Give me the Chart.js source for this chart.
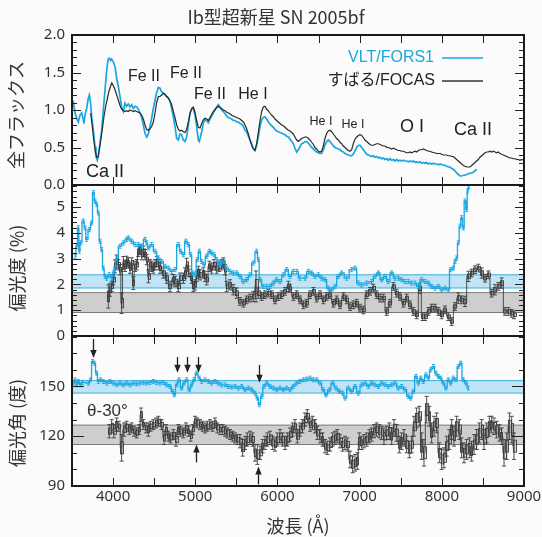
<!DOCTYPE html>
<html>
<head>
<meta charset="utf-8">
<script src="https://cdn.jsdelivr.net/npm/chart.js@4.4.1/dist/chart.umd.min.js"></script>
<style>
body { margin: 0; background: #fbfbfc; }
#wrap { position: relative; width: 542px; height: 537px; }
#wrap canvas { position: absolute; left: 0; top: 0; }
#title { position: absolute; top: 4px; left: 0; width: 552px; text-align: center;
         font: 18px "Noto Sans CJK JP", "Noto Sans"; color: #333; line-height: 24px; }
</style>
</head>
<body>
<div id="wrap">
  <canvas id="fluxChart" width="542" height="537"></canvas>
  <canvas id="polChart" width="542" height="537"></canvas>
  <canvas id="angleChart" width="542" height="537"></canvas>
  <div id="title">Ib型超新星 SN 2005bf</div>
</div>
<script>
// ---------------- data ----------------
const waveTicks = [4000, 5000, 6000, 7000, 8000, 9000];
const fluxTicks = [0, 0.5, 1.0, 1.5, 2.0];
const polTicks = [0, 1, 2, 3, 4, 5];
const angleTicks = [90, 120, 150];

// [wavelength (A), total flux]
const vltFlux = [
  [3496,1.13],[3516,1.11],[3537,0.96],[3557,0.89],[3577,0.84],[3597,0.93],[3618,0.96],[3638,0.87],
  [3646,0.82],[3658,0.93],[3678,1.02],[3699,1.16],[3711,1.20],[3725,1.11],[3739,0.91],[3760,0.73],
  [3780,0.51],[3792,0.38],[3808,0.33],[3820,0.38],[3841,0.56],[3861,0.73],[3881,1.00],[3902,1.27],
  [3922,1.53],[3935,1.64],[3942,1.68],[3955,1.69],[3970,1.66],[3983,1.68],[4003,1.64],[4023,1.58],
  [4044,1.42],[4064,1.31],[4084,1.18],[4104,1.04],[4125,0.98],[4145,1.09],[4165,1.05],[4185,1.08],
  [4206,1.04],[4226,1.07],[4246,1.02],[4267,1.05],[4287,1.04],[4307,1.01],[4327,0.96],[4348,0.90],
  [4368,0.80],[4388,0.69],[4409,0.64],[4429,0.68],[4449,0.78],[4469,0.89],[4490,1.02],[4510,1.13],
  [4530,1.23],[4551,1.30],[4571,1.29],[4591,1.24],[4611,1.23],[4632,1.20],[4652,1.18],[4672,1.16],
  [4692,1.12],[4713,1.02],[4733,0.91],[4753,0.78],[4774,0.62],[4794,0.60],[4814,0.68],[4834,0.67],
  [4855,0.60],[4875,0.58],[4895,0.64],[4916,0.80],[4936,0.96],[4956,1.01],[4976,1.02],[4997,0.93],
  [5017,0.78],[5037,0.60],[5049,0.58],[5058,0.62],[5078,0.71],[5098,0.82],[5118,0.87],[5139,0.86],
  [5159,0.83],[5179,0.88],[5199,0.92],[5220,0.96],[5240,1.01],[5260,1.04],[5280,1.07],[5301,1.04],
  [5321,1.00],[5341,0.98],[5362,0.95],[5382,0.92],[5402,0.90],[5423,0.89],[5443,0.88],[5463,0.86],
  [5483,0.86],[5504,0.84],[5524,0.84],[5544,0.82],[5565,0.81],[5585,0.78],[5605,0.73],[5625,0.71],
  [5646,0.65],[5666,0.60],[5686,0.55],[5706,0.49],[5727,0.46],[5747,0.53],[5767,0.64],[5788,0.78],
  [5808,0.87],[5828,0.90],[5848,0.91],[5869,0.88],[5889,0.84],[5909,0.81],[5930,0.79],[5950,0.77],
  [5970,0.74],[5990,0.72],[6011,0.71],[6031,0.70],[6051,0.69],[6072,0.68],[6092,0.67],[6112,0.65],
  [6133,0.64],[6153,0.61],[6173,0.58],[6193,0.55],[6213,0.49],[6234,0.44],[6254,0.47],[6274,0.51],
  [6294,0.55],[6315,0.56],[6335,0.58],[6355,0.58],[6376,0.56],[6396,0.53],[6416,0.50],[6437,0.48],
  [6457,0.46],[6477,0.44],[6497,0.43],[6518,0.42],[6538,0.42],[6558,0.47],[6578,0.53],[6599,0.58],
  [6619,0.60],[6639,0.58],[6660,0.55],[6680,0.52],[6700,0.50],[6720,0.49],[6741,0.48],[6761,0.47],
  [6781,0.45],[6802,0.44],[6822,0.42],[6842,0.41],[6862,0.40],[6883,0.39],[6903,0.39],[6923,0.41],
  [6944,0.46],[6964,0.50],[6984,0.53],[7004,0.53],[7025,0.50],[7045,0.47],[7065,0.44],[7086,0.41],
  [7106,0.40],[7126,0.39],[7146,0.38],[7167,0.39],[7187,0.37],[7207,0.38],[7228,0.36],[7248,0.37],
  [7268,0.35],[7288,0.36],[7309,0.34],[7329,0.35],[7349,0.33],[7369,0.35],[7390,0.33],[7410,0.34],
  [7430,0.32],[7451,0.34],[7471,0.32],[7491,0.33],[7511,0.32],[7532,0.33],[7552,0.32],[7572,0.32],
  [7592,0.31],[7613,0.32],[7633,0.31],[7653,0.32],[7674,0.30],[7694,0.31],[7714,0.30],[7734,0.31],
  [7755,0.29],[7775,0.30],[7795,0.29],[7816,0.30],[7836,0.28],[7856,0.29],[7876,0.28],[7897,0.29],
  [7917,0.28],[7937,0.28],[7958,0.27],[7978,0.28],[7998,0.27],[8018,0.27],[8039,0.26],[8059,0.25],
  [8079,0.24],[8099,0.24],[8120,0.22],[8140,0.21],[8160,0.19],[8180,0.16],[8201,0.14],[8221,0.12],
  [8241,0.12],[8262,0.13],[8282,0.13],[8302,0.14],[8323,0.15],[8343,0.16],[8363,0.16],[8383,0.17],
  [8404,0.19],[8424,0.21]
];

const subaruFlux = [
  [3727,0.96],[3745,0.80],[3765,0.60],[3785,0.44],[3800,0.37],[3815,0.37],[3830,0.45],[3850,0.60],
  [3870,0.75],[3890,0.92],[3910,1.05],[3930,1.15],[3950,1.25],[3970,1.32],[3985,1.36],[4000,1.33],
  [4020,1.28],[4044,1.20],[4064,1.13],[4084,1.06],[4104,1.01],[4125,0.99],[4145,0.98],[4165,0.99],
  [4185,0.98],[4206,1.00],[4226,0.99],[4246,0.98],[4267,0.99],[4287,0.98],[4307,0.97],[4327,0.96],
  [4348,0.93],[4368,0.88],[4388,0.80],[4409,0.74],[4429,0.73],[4449,0.75],[4469,0.78],[4490,0.84],
  [4510,0.96],[4530,1.10],[4551,1.18],[4571,1.18],[4591,1.20],[4611,1.22],[4632,1.21],[4652,1.18],
  [4672,1.16],[4692,1.12],[4713,1.07],[4733,0.98],[4753,0.90],[4774,0.80],[4794,0.74],[4814,0.72],
  [4834,0.73],[4855,0.71],[4875,0.70],[4895,0.74],[4916,0.84],[4936,0.95],[4956,1.02],[4976,1.04],
  [4997,0.97],[5017,0.86],[5037,0.77],[5058,0.76],[5078,0.82],[5098,0.87],[5118,0.89],[5139,0.88],
  [5159,0.86],[5179,0.90],[5199,0.94],[5220,0.98],[5240,1.00],[5260,1.03],[5280,1.05],[5301,1.03],
  [5321,1.02],[5341,1.00],[5362,0.99],[5382,0.97],[5402,0.96],[5423,0.95],[5443,0.93],[5463,0.92],
  [5483,0.91],[5504,0.90],[5524,0.89],[5544,0.88],[5565,0.86],[5585,0.84],[5605,0.80],[5625,0.75],
  [5646,0.68],[5666,0.60],[5686,0.53],[5706,0.48],[5727,0.46],[5747,0.55],[5767,0.70],[5788,0.86],
  [5808,0.98],[5828,1.04],[5848,1.05],[5869,1.01],[5889,0.99],[5909,0.96],[5930,0.93],[5950,0.91],
  [5970,0.88],[5990,0.86],[6011,0.84],[6031,0.82],[6051,0.80],[6072,0.79],[6092,0.77],[6112,0.75],
  [6133,0.73],[6153,0.72],[6173,0.70],[6193,0.68],[6213,0.64],[6234,0.60],[6254,0.58],[6274,0.60],
  [6294,0.62],[6315,0.63],[6335,0.64],[6355,0.64],[6376,0.62],[6396,0.60],[6416,0.57],[6437,0.54],
  [6457,0.50],[6477,0.48],[6497,0.45],[6518,0.44],[6538,0.45],[6558,0.52],[6578,0.62],[6599,0.69],
  [6619,0.72],[6639,0.73],[6660,0.71],[6680,0.68],[6700,0.65],[6720,0.62],[6741,0.60],[6761,0.57],
  [6781,0.55],[6802,0.52],[6822,0.50],[6842,0.48],[6862,0.46],[6883,0.45],[6903,0.47],[6923,0.55],
  [6944,0.61],[6964,0.64],[6984,0.66],[7004,0.67],[7025,0.66],[7045,0.63],[7065,0.60],[7086,0.58],
  [7106,0.56],[7126,0.54],[7146,0.53],[7167,0.53],[7187,0.54],[7207,0.55],[7228,0.55],[7248,0.54],
  [7268,0.53],[7288,0.52],[7309,0.52],[7329,0.50],[7349,0.50],[7369,0.49],[7390,0.48],[7410,0.49],
  [7430,0.48],[7451,0.47],[7471,0.46],[7491,0.46],[7511,0.45],[7532,0.45],[7552,0.44],[7572,0.43],
  [7592,0.43],[7613,0.44],[7633,0.43],[7653,0.44],[7674,0.45],[7694,0.44],[7714,0.46],[7734,0.47],
  [7755,0.47],[7775,0.48],[7795,0.47],[7816,0.46],[7836,0.45],[7856,0.45],[7876,0.44],[7897,0.43],
  [7917,0.43],[7937,0.42],[7958,0.42],[7978,0.42],[7998,0.41],[8018,0.40],[8039,0.40],[8059,0.40],
  [8079,0.39],[8099,0.39],[8120,0.38],[8140,0.38],[8160,0.36],[8180,0.34],[8201,0.32],[8221,0.30],
  [8241,0.28],[8262,0.26],[8282,0.25],[8302,0.24],[8323,0.24],[8343,0.24],[8363,0.26],[8383,0.28],
  [8404,0.30],[8424,0.32],[8444,0.34],[8465,0.37],[8485,0.39],[8505,0.41],[8526,0.43],[8546,0.44],
  [8566,0.44],[8586,0.45],[8606,0.44],[8627,0.45],[8647,0.44],[8667,0.43],[8687,0.44],[8708,0.42],
  [8728,0.41],[8748,0.40],[8769,0.39],[8789,0.38],[8810,0.37],[8830,0.36],[8850,0.36],[8870,0.35],
  [8891,0.35],[8911,0.34],[8931,0.34],[8951,0.33],[8972,0.34],[8992,0.33],[9000,0.33]
];

// [wavelength, polarization %]
const vltPol = [
  [3537,3.09],[3557,3.48],[3577,4.19],[3590,3.28],[3605,3.61],[3638,4.45],[3658,4.19],[3678,3.74],
  [3711,4.12],[3739,4.38],[3760,5.55],[3780,5.23],[3800,5.10],[3820,4.77],[3841,3.67],[3861,3.35],
  [3881,2.63],[3902,2.31],[3922,2.24],[3954,2.37],[3983,2.24],[4003,2.44],[4023,2.63],[4044,3.02],
  [4084,3.48],[4125,3.61],[4165,3.74],[4185,3.80],[4226,3.67],[4267,3.54],[4307,3.54],[4348,3.48],
  [4388,3.74],[4409,3.61],[4429,3.41],[4469,3.54],[4510,3.28],[4551,3.02],[4591,2.89],[4632,2.70],
  [4672,2.63],[4713,2.50],[4753,2.57],[4794,3.54],[4822,3.28],[4855,3.15],[4887,3.67],[4916,3.54],
  [4944,3.15],[4968,2.44],[4997,2.37],[5025,2.96],[5049,3.28],[5078,2.89],[5106,2.76],[5139,3.09],
  [5171,3.28],[5199,3.22],[5228,3.15],[5260,2.96],[5293,2.76],[5321,2.83],[5350,2.89],[5382,2.63],
  [5423,2.50],[5463,2.44],[5504,2.44],[5544,2.31],[5585,2.11],[5625,2.18],[5666,2.37],[5706,2.83],
  [5747,3.28],[5767,2.96],[5788,2.18],[5828,1.92],[5869,1.92],[5909,1.92],[5950,2.05],[5990,2.18],
  [6031,2.11],[6072,2.37],[6112,2.57],[6153,2.31],[6193,2.50],[6234,2.50],[6274,2.24],[6335,2.24],
  [6376,2.50],[6416,2.44],[6457,2.31],[6497,2.37],[6538,2.24],[6578,2.18],[6619,1.85],[6660,1.79],
  [6700,1.92],[6741,2.31],[6781,2.44],[6842,2.24],[6903,2.57],[6944,2.63],[6984,2.05],[7025,1.98],
  [7086,2.05],[7146,2.11],[7187,2.31],[7228,2.44],[7268,2.18],[7309,2.31],[7349,2.11],[7390,2.44],
  [7430,2.24],[7471,2.24],[7511,2.18],[7552,2.11],[7592,2.11],[7633,2.05],[7674,2.05],[7714,1.92],
  [7755,2.18],[7795,2.11],[7836,2.05],[7876,1.92],[7917,1.85],[7958,1.92],[7998,1.79],[8039,1.85],
  [8079,1.79],[8108,2.57],[8140,2.63],[8160,2.89],[8180,3.02],[8201,3.61],[8221,4.25],[8241,4.58],
  [8262,4.19],[8282,5.23],[8302,4.90],[8314,5.62],[8331,5.80]
];
const vltPolErr = 0.08;

// [wavelength, polarization %, error]
const subaruPol = [
  [3942,1.53,0.45],[3962,1.79,0.25],[3983,1.92,0.2],[4003,2.18,0.2],[4023,2.70,0.25],[4044,2.89,0.25],
  [4064,2.76,0.2],[4084,2.57,0.2],[4104,1.27,0.4],[4125,2.83,0.25],[4145,2.70,0.2],[4165,2.89,0.2],
  [4185,2.83,0.2],[4206,2.63,0.2],[4226,2.83,0.2],[4246,2.05,0.25],[4267,2.70,0.2],[4287,2.76,0.2],
  [4307,3.28,0.2],[4327,3.35,0.2],[4348,3.15,0.2],[4368,3.28,0.2],[4388,3.15,0.2],[4409,2.96,0.2],
  [4429,2.31,0.25],[4449,2.76,0.2],[4469,2.70,0.2],[4490,2.63,0.2],[4510,2.76,0.2],[4530,2.89,0.2],
  [4551,2.76,0.2],[4571,2.63,0.2],[4611,2.44,0.2],[4652,2.24,0.2],[4692,1.92,0.2],[4733,2.18,0.2],
  [4753,2.11,0.2],[4794,1.92,0.2],[4814,2.24,0.2],[4855,2.24,0.2],[4875,2.44,0.2],[4895,2.76,0.25],
  [4916,2.50,0.2],[4956,2.24,0.2],[4976,1.92,0.2],[4997,1.98,0.2],[5017,2.31,0.2],[5037,2.50,0.2],
  [5058,2.37,0.2],[5098,2.44,0.2],[5118,2.31,0.2],[5139,2.18,0.2],[5171,2.70,0.2],[5199,2.63,0.2],
  [5228,2.76,0.2],[5260,2.63,0.2],[5293,2.70,0.2],[5321,2.76,0.2],[5341,2.83,0.2],[5362,2.57,0.2],
  [5382,1.92,0.2],[5423,1.98,0.2],[5463,1.79,0.2],[5504,1.66,0.2],[5544,1.34,0.15],[5585,1.27,0.15],
  [5625,1.40,0.15],[5666,1.47,0.15],[5706,1.53,0.2],[5739,1.92,0.6],[5767,1.66,0.2],[5808,1.53,0.15],
  [5848,1.60,0.15],[5889,1.66,0.15],[5930,1.60,0.15],[5970,1.40,0.15],[6011,1.53,0.15],[6051,1.60,0.15],
  [6092,1.73,0.15],[6133,1.92,0.2],[6153,1.85,0.15],[6193,1.53,0.15],[6234,1.60,0.15],[6274,1.40,0.15],
  [6315,1.21,0.15],[6355,1.27,0.15],[6396,1.60,0.15],[6437,1.73,0.15],[6477,1.47,0.15],[6518,1.60,0.15],
  [6558,1.40,0.15],[6599,1.53,0.15],[6639,1.60,0.15],[6680,1.27,0.15],[6720,1.40,0.15],[6761,1.21,0.15],
  [6802,1.53,0.15],[6842,1.40,0.15],[6883,1.14,0.15],[6923,1.21,0.15],[6964,1.27,0.15],[7004,1.08,0.15],
  [7045,1.01,0.15],[7086,1.60,0.15],[7126,1.73,0.15],[7167,1.85,0.15],[7207,1.60,0.15],[7248,1.47,0.15],
  [7288,1.47,0.15],[7329,0.95,0.15],[7369,1.27,0.15],[7410,1.92,0.15],[7451,1.66,0.15],[7491,1.53,0.15],
  [7532,1.27,0.15],[7572,1.47,0.15],[7613,1.21,0.15],[7653,0.95,0.15],[7694,0.82,0.15],[7734,1.85,0.2],
  [7767,0.75,0.15],[7795,0.75,0.15],[7836,0.95,0.15],[7876,1.08,0.15],[7917,1.08,0.15],[7958,0.95,0.15],
  [7998,0.82,0.15],[8039,1.01,0.15],[8079,0.75,0.15],[8120,0.56,0.15],[8160,1.14,0.15],[8201,1.47,0.2],
  [8241,1.40,0.15],[8282,1.34,0.2],[8323,2.31,0.2],[8363,2.44,0.15],[8404,2.57,0.15],[8444,2.63,0.15],
  [8485,2.44,0.2],[8526,2.24,0.15],[8566,2.37,0.15],[8606,1.66,0.15],[8647,1.79,0.2],[8687,1.92,0.15],
  [8728,2.05,0.2],[8769,0.95,0.15],[8810,0.95,0.15],[8850,0.88,0.15],[8878,0.82,0.15]
];

// [wavelength, polarization angle (deg)]
const vltAngle = [
  [3516,152.0],[3537,154.0],[3557,151.0],[3577,153.0],[3605,151.0],[3630,152.4],[3699,152.0],[3725,154.0],
  [3751,165.0],[3772,164.0],[3800,158.0],[3820,153.0],[3848,154.0],[3881,153.0],[3922,152.0],[3962,153.0],
  [4003,152.0],[4044,151.0],[4084,152.0],[4125,151.0],[4165,152.0],[4206,151.0],[4246,152.0],[4287,151.6],
  [4327,152.0],[4368,152.4],[4409,152.0],[4449,152.4],[4490,153.0],[4530,152.4],[4571,152.0],[4611,152.4],
  [4652,151.0],[4692,150.0],[4725,147.0],[4745,145.0],[4774,151.0],[4802,154.0],[4834,149.0],[4863,152.0],
  [4895,154.0],[4928,148.0],[4956,151.0],[4984,154.0],[5017,158.0],[5049,155.0],[5078,153.0],[5118,154.0],
  [5159,153.0],[5199,152.0],[5240,153.0],[5280,152.0],[5321,151.0],[5362,151.0],[5402,150.0],[5443,149.6],
  [5483,150.0],[5524,149.0],[5565,150.0],[5605,148.0],[5646,149.0],[5686,148.0],[5727,146.0],[5755,143.0],
  [5779,139.0],[5808,144.0],[5836,150.0],[5869,152.0],[5909,150.0],[5950,149.0],[5990,148.0],[6031,149.0],
  [6072,148.0],[6112,149.0],[6153,148.0],[6193,150.0],[6234,152.0],[6274,153.0],[6315,154.0],[6355,154.4],
  [6396,155.0],[6437,154.0],[6477,154.0],[6518,152.0],[6558,148.0],[6591,145.0],[6631,148.0],[6672,152.0],
  [6712,149.0],[6753,147.0],[6793,146.0],[6822,143.0],[6862,149.0],[6903,147.0],[6944,150.0],[6984,146.0],
  [7025,151.0],[7065,152.0],[7106,150.0],[7146,152.0],[7187,151.0],[7228,150.0],[7268,152.0],[7309,151.0],
  [7349,150.0],[7390,151.0],[7430,152.0],[7471,149.0],[7511,150.0],[7552,148.0],[7592,144.0],[7621,143.0],
  [7653,147.0],[7686,156.0],[7714,152.0],[7743,155.0],[7775,153.0],[7807,157.0],[7836,155.0],[7864,160.0],
  [7897,162.0],[7929,158.0],[7958,156.0],[7986,155.0],[8018,152.0],[8051,149.0],[8079,154.0],[8108,152.0],
  [8140,155.0],[8172,154.0],[8201,162.0],[8229,164.0],[8262,154.0],[8294,152.0],[8323,149.0]
];
const vltAngleErr = 1.2;

// [wavelength, theta - 30 deg, error]
const subaruAngle = [
  [3954,123,4],[3983,126,4],[4010,123,4],[4044,127,4],[4070,126,3],[4104,113,8],[4133,124,4],[4165,126,3],
  [4196,124,3],[4226,125,3],[4255,123,3],[4287,122,3],[4318,124,3],[4340,133,4],[4368,127,3],[4400,125,3],
  [4429,124,4],[4457,126,3],[4490,127,3],[4522,128,3],[4551,129,3],[4591,127,3],[4620,119,4],[4644,124,3],
  [4672,120,3],[4700,119,3],[4733,121,3],[4765,118,4],[4794,124,3],[4822,123,3],[4855,122,3],[4887,125,3],
  [4916,123,3],[4944,120,3],[4968,124,3],[4997,129,3],[5025,128,3],[5058,127,3],[5090,126,3],[5118,125,3],
  [5147,126,3],[5179,127,3],[5212,126,3],[5240,128,3],[5268,125,3],[5301,124,3],[5333,124,3],[5362,123,3],
  [5390,122,3],[5423,121,3],[5455,120,3],[5483,119,3],[5512,118,3],[5544,117,4],[5577,113,5],[5605,116,4],
  [5633,118,4],[5666,119,4],[5698,118,4],[5727,110,5],[5755,109,6],[5788,110,4],[5820,114,4],[5848,116,4],
  [5877,118,4],[5909,119,4],[5942,116,4],[5970,115,4],[5998,118,4],[6031,120,4],[6063,118,4],[6092,116,4],
  [6120,118,4],[6153,121,4],[6185,124,4],[6213,126,4],[6242,120,4],[6274,124,4],[6303,126,4],[6335,130,4],
  [6364,132,4],[6396,127,4],[6428,128,4],[6457,126,4],[6485,122,4],[6518,120,4],[6550,118,4],[6578,114,4],
  [6607,113,4],[6639,115,4],[6672,118,4],[6700,119,4],[6728,120,4],[6761,117,4],[6793,115,4],[6822,116,4],
  [6850,115,4],[6883,106,5],[6915,103,5],[6944,104,5],[6972,105,5],[6996,117,5],[7025,116,4],[7053,117,4],
  [7086,118,4],[7118,120,4],[7146,121,4],[7175,123,4],[7207,124,4],[7240,123,4],[7268,122,4],[7296,120,5],
  [7329,122,4],[7361,123,5],[7390,120,5],[7418,125,5],[7451,122,5],[7483,115,5],[7511,117,5],[7540,119,5],
  [7572,115,5],[7605,112,5],[7633,115,5],[7661,126,6],[7694,131,6],[7726,132,6],[7755,114,8],[7783,110,8],
  [7816,136,8],[7848,132,6],[7876,122,6],[7905,126,6],[7937,128,6],[7970,110,6],[7998,106,6],[8026,107,6],
  [8059,114,6],[8091,118,6],[8120,124,6],[8148,120,6],[8180,126,6],[8213,124,6],[8241,113,6],[8270,110,6],
  [8302,112,6],[8335,113,6],[8363,111,6],[8392,115,6],[8424,118,6],[8457,122,6],[8485,124,6],[8513,118,6],
  [8546,122,6],[8578,126,6],[8606,127,5],[8635,126,5],[8667,124,5],[8700,122,5],[8728,120,5],[8757,110,8],
  [8789,114,8],[8822,126,8],[8850,124,8],[8878,114,8]
];

// shaded reference bands [low, high]
const vltPolBand = [1.86, 2.37];
const subaruPolBand = [0.91, 1.68];
const vltAngleBand = [146.0, 153.5];
const subaruAngleBand = [115.0, 126.7];

// ---------------- styling ----------------
const CYAN = '#1ba6e0';
const DARK = '#2a2a2a';
const STEP_DARK = '#3c3c3c';
const CYAN_FILL = 'rgba(120, 200, 240, 0.45)';
const CYAN_EDGE = '#3aaee0';
const GRAY_FILL = 'rgba(170, 170, 170, 0.55)';
const GRAY_EDGE = '#7a7a7a';
const TICK_FONT = { family: '"Noto Sans", "DejaVu Sans", sans-serif', size: 15 };
const LABEL_FONT = '"Liberation Sans", Arial, sans-serif';
const JP_FONT = '"Noto Sans CJK JP", "Noto Sans", sans-serif';

function toPts(rows, err) {
    return rows.map(r => ({ x: r[0], y: r[1], e: err !== undefined ? err : r[2] }));
}

function band(range, fill, edge) {
    return [
        { data: [{ x: 3500, y: range[0] }, { x: 9000, y: range[0] }], borderColor: edge, borderWidth: 1,
          pointRadius: 0, fill: false, order: 2 },
        { data: [{ x: 3500, y: range[1] }, { x: 9000, y: range[1] }], borderColor: edge, borderWidth: 1,
          pointRadius: 0, fill: '-1', backgroundColor: fill, order: 2 }
    ];
}

// error bars with caps (and optional bin boxes), drawn right after their own dataset
const errorBarPlugin = {
    id: 'errorBars',
    afterDatasetDraw(chart, args) {
        const ds = chart.data.datasets[args.index];
        if (!ds.errorBars) return;
        const opt = ds.errorBars;
        const { ctx, chartArea: a } = chart;
        const ys = chart.scales[args.meta.yAxisID];
        const pts = args.meta.data;
        const w = opt.cap;
        ctx.save();
        ctx.beginPath();
        ctx.rect(a.left, a.top, a.right - a.left, a.bottom - a.top);
        ctx.clip();
        ctx.lineWidth = 0.9;
        if (opt.box) {
            ctx.fillStyle = opt.boxFill;
            ctx.strokeStyle = opt.color;
            pts.forEach((pt, i) => {
                const d = ds.data[i];
                const l = i > 0 ? (pts[i - 1].x + pt.x) / 2 : pt.x - 1.5;
                const r = i < pts.length - 1 ? (pts[i + 1].x + pt.x) / 2 : pt.x + 1.5;
                const t = ys.getPixelForValue(d.y + d.e * opt.box);
                const b = ys.getPixelForValue(d.y - d.e * opt.box);
                ctx.fillRect(l, t, r - l, b - t);
                ctx.strokeRect(Math.round(l) + 0.5, t, Math.max(1, Math.round(r - l)), b - t);
            });
        }
        ctx.strokeStyle = opt.color;
        ctx.beginPath();
        pts.forEach((pt, i) => {
            const d = ds.data[i];
            const top = ys.getPixelForValue(d.y + d.e);
            const bot = ys.getPixelForValue(d.y - d.e);
            ctx.moveTo(pt.x, top); ctx.lineTo(pt.x, bot);
            ctx.moveTo(pt.x - w, top); ctx.lineTo(pt.x + w, top);
            ctx.moveTo(pt.x - w, bot); ctx.lineTo(pt.x + w, bot);
        });
        ctx.stroke();
        ctx.restore();
    }
};

// panel frame + inward tick marks
const framePlugin = {
    id: 'frame',
    afterDraw(chart, args, o) {
        const { ctx, chartArea: a } = chart;
        const xs = chart.scales.x, ys = chart.scales.y;
        ctx.save();
        ctx.strokeStyle = '#222';
        ctx.lineWidth = 1;
        ctx.beginPath();
        for (let k = Math.ceil(xs.min / o.xStep); k <= Math.floor(xs.max / o.xStep); k++) {
            const px = Math.round(xs.getPixelForValue(k * o.xStep)) + 0.5;
            ctx.moveTo(px, a.top); ctx.lineTo(px, a.top + o.xLen);
            ctx.moveTo(px, a.bottom); ctx.lineTo(px, a.bottom - o.xLen);
        }
        const k0 = Math.ceil(ys.min / o.yStep - 1e-6), k1 = Math.floor(ys.max / o.yStep + 1e-6);
        for (let k = k0; k <= k1; k++) {
            const v = k * o.yStep;
            const len = o.major.some(m => Math.abs(m - v) < 1e-6) ? o.majorLen : o.minorLen;
            const py = Math.round(ys.getPixelForValue(v)) + 0.5;
            ctx.moveTo(a.left, py); ctx.lineTo(a.left + len, py);
            ctx.moveTo(a.right, py); ctx.lineTo(a.right - len, py);
        }
        ctx.stroke();
        ctx.lineWidth = 2;
        ctx.strokeStyle = '#1a1a1a';
        ctx.strokeRect(a.left, a.top, a.right - a.left, a.bottom - a.top);
        ctx.restore();
    }
};

// texts, legend segments and arrows
const decorPlugin = {
    id: 'decor',
    afterDraw(chart, args, o) {
        const ctx = chart.ctx;
        const xs = chart.scales.x, ys = chart.scales.y;
        ctx.save();
        (o.segments || []).forEach(s => {
            ctx.strokeStyle = s.color;
            ctx.lineWidth = s.width || 1.5;
            ctx.beginPath(); ctx.moveTo(s.x0, s.y); ctx.lineTo(s.x1, s.y); ctx.stroke();
        });
        (o.arrows || []).forEach(ar => {
            const px = Math.round(xs.getPixelForValue(ar.wave)) + 0.5;
            const p0 = ys.getPixelForValue(ar.from), p1 = ys.getPixelForValue(ar.to);
            const dir = Math.sign(p1 - p0);
            ctx.strokeStyle = '#222'; ctx.fillStyle = '#222'; ctx.lineWidth = 1.3;
            ctx.beginPath(); ctx.moveTo(px, p0); ctx.lineTo(px, p1 - dir * 5); ctx.stroke();
            ctx.beginPath(); ctx.moveTo(px, p1); ctx.lineTo(px - 3.2, p1 - dir * 8); ctx.lineTo(px + 3.2, p1 - dir * 8);
            ctx.closePath(); ctx.fill();
        });
        (o.texts || []).forEach(t => {
            let px = t.x, py = t.y;
            if (t.data) { px = xs.getPixelForValue(t.x); py = ys.getPixelForValue(t.y); }
            ctx.save();
            ctx.font = t.font;
            ctx.fillStyle = t.color || '#222';
            ctx.textAlign = t.align || 'center';
            ctx.textBaseline = 'middle';
            ctx.translate(px, py);
            if (t.rotate) ctx.rotate(t.rotate);
            ctx.fillText(t.text, 0, 0);
            ctx.restore();
        });
        ctx.restore();
    }
};

function xScale(show) {
    return {
        type: 'linear', min: 3500, max: 9000, display: show,
        afterFit: sc => { sc.height = show ? 51 : 0; sc.paddingLeft = 0; sc.paddingRight = 0; },
        afterBuildTicks: sc => { sc.ticks = waveTicks.map(v => ({ value: v })); },
        grid: { display: false, drawTicks: false },
        border: { display: false },
        ticks: { color: '#333', font: TICK_FONT, padding: 2, maxRotation: 0, autoSkip: false, callback: v => String(v) },
        title: { display: true, text: '波長 (Å)', color: '#333', font: { family: JP_FONT, size: 18 }, padding: { top: 0, bottom: 0 } }
    };
}

function yScale(min, max, ticks, fmt) {
    return {
        type: 'linear', min: min, max: max,
        afterFit: sc => { sc.width = 72; sc.paddingTop = 0; sc.paddingBottom = 0; },
        afterBuildTicks: sc => { sc.ticks = ticks.map(v => ({ value: v })); },
        grid: { display: false, drawTicks: false },
        border: { display: false },
        ticks: { color: '#333', font: TICK_FONT, padding: 7, callback: fmt }
    };
}

function makeChart(id, cfg) {
    return new Chart(document.getElementById(id), {
        type: 'line',
        data: { datasets: cfg.datasets },
        options: {
            responsive: false,
            animation: false,
            events: [],
            layout: { padding: { left: 0, right: 18, top: cfg.top, bottom: cfg.bottom } },
            elements: { point: { radius: 0 }, line: { tension: 0 } },
            plugins: {
                legend: { display: false },
                tooltip: { enabled: false },
                frame: cfg.frame,
                decor: cfg.decor
            },
            scales: { x: xScale(cfg.showX), y: cfg.y }
        },
        plugins: [errorBarPlugin, framePlugin, decorPlugin]
    });
}

// ---------------- panel 1: total flux ----------------
makeChart('fluxChart', {
    top: 35, bottom: 352, showX: false,
    y: yScale(0, 2.0, fluxTicks, v => v.toFixed(1)),
    datasets: [
        { data: toPts(subaruFlux), borderColor: DARK, borderWidth: 1.2, order: 1 },
        { data: toPts(vltFlux), borderColor: CYAN, borderWidth: 1.7, order: 1 }
    ],
    frame: { xStep: 500, xLen: 8, yStep: 0.1, major: fluxTicks, majorLen: 9, minorLen: 5 },
    decor: {
        segments: [
            { x0: 442, x1: 483, y: 58, color: CYAN, width: 1.5 },
            { x0: 442, x1: 483, y: 81, color: '#333', width: 1.5 }
        ],
        texts: [
            { text: 'VLT/FORS1', x: 434, y: 58, align: 'right', color: CYAN, font: '16px ' + LABEL_FONT },
            { text: 'すばる/FOCAS', x: 435, y: 81, align: 'right', color: '#222', font: '16px "Liberation Sans", "Noto Sans CJK JP", sans-serif' },
            { text: 'Fe II', x: 4376, y: 1.44, data: true, font: '16px ' + LABEL_FONT },
            { text: 'Fe II', x: 4887, y: 1.49, data: true, font: '16px ' + LABEL_FONT },
            { text: 'Fe II', x: 5179, y: 1.20, data: true, font: '16px ' + LABEL_FONT },
            { text: 'He I', x: 5702, y: 1.20, data: true, font: '16px ' + LABEL_FONT },
            { text: 'He I', x: 6530, y: 0.85, data: true, font: '12.5px ' + LABEL_FONT },
            { text: 'He I', x: 6919, y: 0.80, data: true, font: '12.5px ' + LABEL_FONT },
            { text: 'O I', x: 7637, y: 0.77, data: true, font: '18px ' + LABEL_FONT },
            { text: 'Ca II', x: 8379, y: 0.73, data: true, font: '18px ' + LABEL_FONT },
            { text: 'Ca II', x: 3902, y: 0.17, data: true, font: '18px ' + LABEL_FONT },
            { text: '全フラックス', x: 16, y: 115, rotate: -Math.PI / 2, color: '#333', font: '18px ' + JP_FONT }
        ]
    }
});

// ---------------- panel 2: polarization degree ----------------
makeChart('polChart', {
    top: 185, bottom: 201, showX: false,
    y: yScale(0, 5.85, polTicks, v => String(v)),
    datasets: [
        { data: toPts(vltPol, vltPolErr), borderColor: CYAN, borderWidth: 1.3, stepped: 'middle', order: 1,
          errorBars: { color: CYAN, cap: 1.5 } },
        { data: toPts(subaruPol), borderColor: STEP_DARK, borderWidth: 0.9, stepped: 'middle', order: 1,
          errorBars: { color: STEP_DARK, cap: 2, box: 0.45, boxFill: '#a4a4a4' } },
        ...band(vltPolBand, CYAN_FILL, CYAN_EDGE),
        ...band(subaruPolBand, GRAY_FILL, GRAY_EDGE)
    ],
    frame: { xStep: 500, xLen: 8, yStep: 0.2, major: polTicks, majorLen: 9, minorLen: 5 },
    decor: {
        texts: [
            { text: '偏光度 (%)', x: 17, y: 268, rotate: -Math.PI / 2, color: '#333', font: '18px ' + JP_FONT }
        ]
    }
});

// ---------------- panel 3: polarization angle ----------------
makeChart('angleChart', {
    top: 336, bottom: 0, showX: true,
    y: yScale(90, 180.4, angleTicks, v => String(v)),
    datasets: [
        { data: toPts(vltAngle, vltAngleErr), borderColor: CYAN, borderWidth: 1.3, stepped: 'middle', order: 1,
          errorBars: { color: CYAN, cap: 1.5 } },
        { data: toPts(subaruAngle), borderColor: STEP_DARK, borderWidth: 0.9, stepped: 'middle', order: 1,
          errorBars: { color: STEP_DARK, cap: 2, box: 0.45, boxFill: '#b4b4b4' } },
        ...band(vltAngleBand, CYAN_FILL, CYAN_EDGE),
        ...band(subaruAngleBand, GRAY_FILL, GRAY_EDGE)
    ],
    frame: { xStep: 500, xLen: 8, yStep: 10, major: angleTicks, majorLen: 12, minorLen: 5 },
    decor: {
        arrows: [
            { wave: 3752, from: 178.6, to: 167.2 },
            { wave: 4773, from: 167.8, to: 158.2 },
            { wave: 4895, from: 167.8, to: 158.2 },
            { wave: 5028, from: 167.8, to: 158.2 },
            { wave: 5779, from: 163.0, to: 152.2 },
            { wave: 5008, from: 104.2, to: 115.0 },
            { wave: 5759, from: 91.0, to: 101.8 }
        ],
        texts: [
            { text: 'θ-30°', x: 3683, y: 134.8, data: true, align: 'left', color: '#333', font: '17px ' + LABEL_FONT },
            { text: '偏光角 (度)', x: 17, y: 423, rotate: -Math.PI / 2, color: '#333', font: '18px ' + JP_FONT }
        ]
    }
});
</script>
</body>
</html>
